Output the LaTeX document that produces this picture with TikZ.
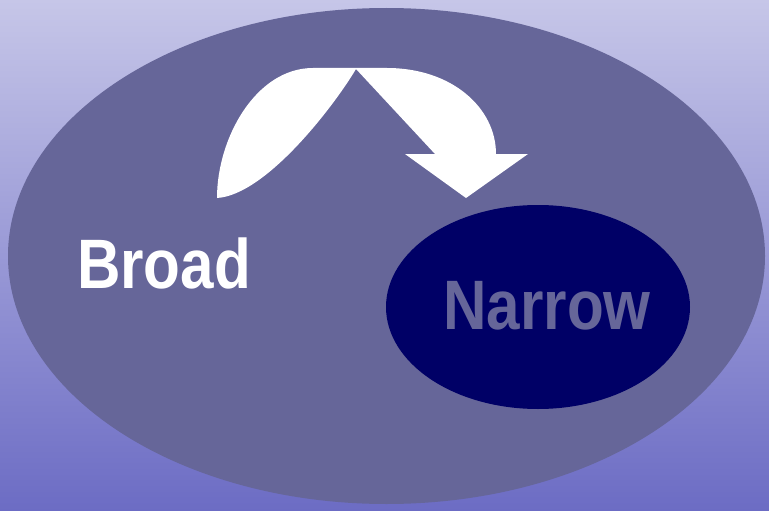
\documentclass[tikz,border=0pt]{standalone}
\usepackage{fontspec}
\setmainfont{Liberation Sans}
\usetikzlibrary{shapes.geometric}
\definecolor{bgtop}{RGB}{198,198,232}
\definecolor{bgbot}{RGB}{108,108,196}
\definecolor{outerfill}{RGB}{102,102,153}
\definecolor{innerfill}{RGB}{0,0,102}
\tikzset{
  label text/.style={font=\fontsize{70}{80}\selectfont\bfseries, inner sep=0pt, anchor=base, xscale=0.86},
}
\begin{document}
\begin{tikzpicture}[x=1pt, y=-1pt]
  % page background
  \shade[top color=bgtop, bottom color=bgbot] (0,0) rectangle (769,511);
  \useasboundingbox (0,0) rectangle (769,511);
  % broad and narrow regions
  \node (broadset) [ellipse, fill=outerfill, minimum width=757pt, minimum height=496pt, inner sep=0pt] at (386.5,256) {};
  \node (narrowset) [ellipse, fill=innerfill, minimum width=304pt, minimum height=204pt, inner sep=0pt] at (538,307) {};
  % labels
  \node (broad) [label text, text=white] at (164,288) {Broad};
  \node (narrow) [label text, text=outerfill] at (547,329) {Narrow};
  % curved block arrow from broad towards narrow
  \fill[white] (217,198)
    .. controls (217,138) and (256,68) .. (313,68)
    -- (387,68)
    .. controls (452,68) and (496,108) .. (496,154)
    -- (528,154) -- (466,198) -- (405,154) -- (435,154)
    -- (356,69)
    .. controls (334,106) and (266,195) .. cycle;
\end{tikzpicture}
\end{document}
